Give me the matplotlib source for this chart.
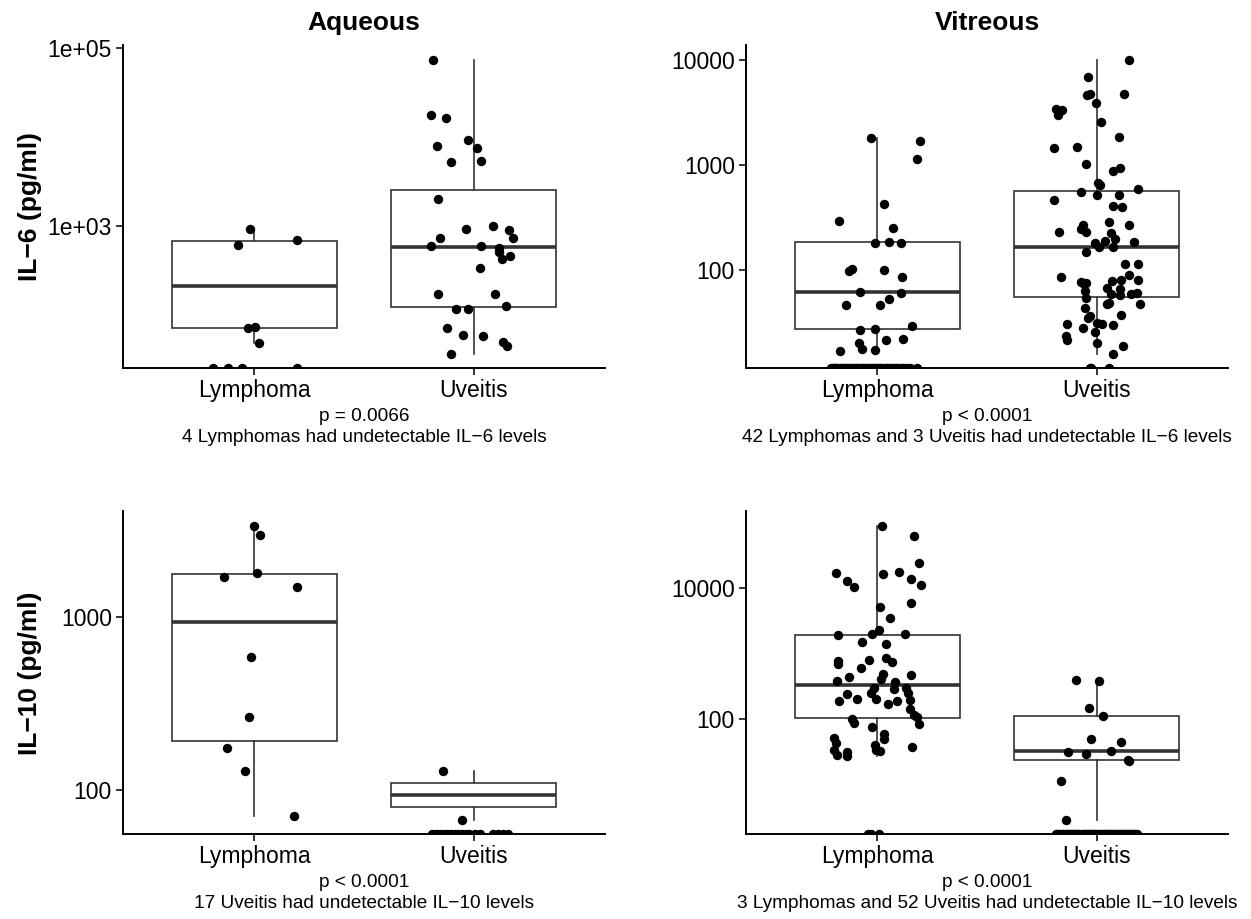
import numpy as np
import matplotlib
matplotlib.use('Agg')
import matplotlib.pyplot as plt
from matplotlib import cbook
from matplotlib.ticker import NullLocator

plt.rcParams['font.family'] = ['Liberation Sans', 'DejaVu Sans']

groups = ['Lymphoma', 'Uveitis']

# Aqueous, IL-6 (pg/ml) -- *_jit = horizontal jitter, *_nd = jitter of undetectable samples
aq_il6_lym = [925, 611, 708, 71, 74, 49]
aq_il6_lym_jit = [-0.02, -0.077, 0.194, -0.03, 0.004, 0.019]
aq_il6_lym_nd = [-0.19, -0.12, -0.059, 0.194]
aq_il6_uve = [73800, 17860, 16370, 7980, 9330, 7640, 5270, 5410, 2000, 933,
              1009, 910, 738, 733, 600, 605, 570, 514, 467, 425,
              336, 175, 175, 126, 117, 117, 71, 60, 59, 50,
              45, 37]
aq_il6_uve_jit = [-0.183, -0.192, -0.125, -0.165, -0.023, 0.014, -0.104, 0.033, -0.162, -0.035,
                  0.091, 0.163, -0.151, 0.181, -0.196, 0.033, 0.118, 0.115, 0.167, 0.129,
                  0.028, -0.16, 0.1, 0.147, -0.08, -0.024, -0.12, -0.048, 0.042, 0.136,
                  0.153, -0.102]
aq_il6_uve_nd = []

# Vitreous, IL-6
vit_il6_lym = [1816, 1690, 1130, 421, 292, 250, 180, 187, 181, 97,
               102, 101, 86.5, 61.7, 60, 46.3, 46.3, 52.5, 29.2, 27,
               27.6, 20.4, 21.5, 22.2, 17, 17.6, 17.3]
vit_il6_lym_jit = [-0.029, 0.194, 0.179, 0.03, -0.176, 0.073, -0.011, 0.052, 0.106, -0.132,
                   -0.115, 0.029, 0.111, -0.08, 0.109, -0.143, 0.011, 0.055, 0.159, -0.08,
                   -0.012, -0.083, 0.041, 0.115, -0.172, -0.071, -0.009]
vit_il6_lym_nd = [-0.212, -0.205, -0.196, -0.19, -0.183, -0.171, -0.165, -0.158, -0.147, -0.139,
                  -0.131, -0.122, -0.118, -0.104, -0.097, -0.089, -0.08, -0.071, -0.066, -0.055,
                  -0.047, -0.038, -0.031, -0.022, -0.013, -0.004, 0.006, 0.012, 0.021, 0.034,
                  0.041, 0.05, 0.058, 0.067, 0.079, 0.086, 0.095, 0.108, 0.117, 0.131,
                  0.149, 0.182]
vit_il6_uve = [10000, 6840, 4650, 4710, 4710, 3860, 3410, 3330, 2990, 2550,
               1845, 1450, 1480, 1026, 869, 927, 671, 647, 593, 551,
               524, 524, 462, 407, 396, 285, 269, 228, 244, 267,
               228, 225, 196, 189, 180, 164, 167, 187, 147, 115,
               115, 90.4, 85.7, 79.8, 79.8, 78, 76.9, 73.1, 74.6, 67.9,
               66.4, 63.1, 59.6, 57.4, 58.6, 60.8, 54.1, 48.9, 47.1, 47.8,
               43.2, 36.4, 34.6, 37, 30.8, 28, 31, 30.8, 29.9, 25.5,
               23.4, 21.8, 20.1, 19, 16]
vit_il6_uve_jit = [0.146, -0.041, -0.043, -0.029, 0.126, -0.002, -0.184, -0.156, -0.175, 0.02,
                   0.102, -0.194, -0.088, -0.049, 0.076, 0.109, 0.005, 0.017, 0.19, -0.07,
                   0.0, 0.102, -0.193, 0.074, 0.118, 0.059, 0.147, -0.173, -0.07, -0.062,
                   -0.046, 0.064, 0.084, 0.039, -0.005, 0.011, 0.073, 0.172, -0.047, 0.128,
                   0.191, 0.146, -0.162, 0.191, 0.112, 0.07, -0.07, -0.059, -0.05, 0.049,
                   0.105, -0.052, 0.064, 0.105, 0.158, 0.187, -0.05, 0.056, 0.049, 0.197,
                   -0.053, -0.029, -0.039, 0.112, -0.134, -0.062, 0.003, 0.024, 0.074, -0.006,
                   -0.138, -0.137, 0.0, 0.12, 0.073]
vit_il6_uve_nd = [-0.03, -0.024, 0.059]

# Aqueous, IL-10
aq_il10_lym = [3360, 2980, 1800, 1710, 1490, 587, 264, 175, 129, 71.6]
aq_il10_lym_jit = [0.0, 0.026, 0.014, -0.14, 0.194, -0.015, -0.024, -0.127, -0.042, 0.181]
aq_il10_lym_nd = []
aq_il10_uve = [130, 67.9]
aq_il10_uve_jit = [-0.138, -0.053]
aq_il10_uve_nd = [-0.188, -0.17, -0.151, -0.137, -0.12, -0.102, -0.086, -0.07, -0.051, -0.033,
                  -0.019, 0.005, 0.028, 0.09, 0.112, 0.134, 0.158]

# Vitreous, IL-10
vit_il10_lym = [87900, 61800, 24300, 16700, 16500, 17500, 13550, 12760, 10350, 11000,
                5830, 5080, 3530, 2320, 1920, 1970, 2020, 1490, 1390, 773,
                689, 800, 869, 757, 612, 447, 497, 479, 383, 375,
                406, 303, 255, 286, 303, 255, 240, 188, 202, 207,
                171, 190, 197, 146, 119, 110, 84, 102, 87, 75.5,
                60.5, 50.8, 52.6, 43.2, 34.9, 29.3, 31.8, 27.6, 40.2, 34.9,
                32.6, 38.4]
vit_il10_lym_jit = [0.021, 0.167, 0.19, -0.191, 0.027, 0.1, 0.153, -0.137, -0.109, 0.197,
                    0.153, 0.011, 0.058, 0.008, -0.182, -0.024, 0.128, -0.07, 0.039, -0.181,
                    -0.178, -0.038, 0.041, 0.068, -0.076, -0.129, 0.027, 0.152, -0.185, 0.08,
                    0.018, -0.015, -0.03, 0.076, 0.129, 0.138, -0.137, -0.175, -0.091, -0.008,
                    0.046, 0.088, 0.147, 0.15, 0.167, 0.182, 0.19, -0.114, -0.108, -0.023,
                    0.03, 0.032, -0.2, -0.19, -0.2, -0.185, -0.137, -0.141, -0.011, -0.005,
                    0.012, 0.159]
vit_il10_lym_nd = [-0.043, -0.03, 0.008]
vit_il10_uve = [398, 389, 149, 112, 50.8, 45.2, 33.7, 32.2, 30.3, 24.3, 23.4, 11.5, 3.0]
vit_il10_uve_jit = [-0.095, 0.01, -0.034, 0.03, -0.027, 0.11, 0.067, -0.131, -0.047, 0.143,
                    0.15, -0.163, -0.141]
vit_il10_uve_nd = [-0.186, -0.18, -0.17, -0.166, -0.155, -0.151, -0.14, -0.136, -0.127, -0.122,
                   -0.111, -0.107, -0.097, -0.093, -0.083, -0.078, -0.068, -0.064, -0.054, -0.049,
                   -0.04, -0.036, -0.025, -0.021, -0.011, -0.006, 0.004, 0.008, 0.018, 0.023,
                   0.033, 0.037, 0.047, 0.052, 0.062, 0.066, 0.076, 0.081, 0.09, 0.095,
                   0.105, 0.109, 0.119, 0.124, 0.133, 0.138, 0.148, 0.152, 0.162, 0.167,
                   0.176, 0.184]

il6_aq_ticks = [1e3, 1e5]
il6_aq_labels = ['1e+03', '1e+05']
il6_vit_ticks = [100, 1000, 10000]
il6_vit_labels = ['100', '1000', '10000']
il10_aq_ticks = [100, 1000]
il10_aq_labels = ['100', '1000']
il10_vit_ticks = [100, 10000]
il10_vit_labels = ['100', '10000']

box_col = '#333333'


def draw_panel(ax, lym, lym_jit, lym_nd, uve, uve_jit, uve_nd, ticks, labels, caption,
               title=None, ylabel=None):
    # y range like ggplot: finite values on log scale, 5% expansion
    logs = np.log10(np.concatenate([lym, uve]))
    lo, hi = logs.min(), logs.max()
    pad = 0.05 * (hi - lo)
    ax.set_yscale('log')
    ax.set_ylim(10 ** (lo - pad), 10 ** (hi + pad))
    ax.set_xlim(0.4, 2.6)

    # box stats computed on log10 values (scale_y_log10 behaviour)
    stats = []
    for vals in (lym, uve):
        s = cbook.boxplot_stats(np.log10(vals), whis=1.5)[0]
        for k in ('med', 'q1', 'q3', 'whislo', 'whishi', 'mean'):
            s[k] = 10 ** s[k]
        s['fliers'] = []
        stats.append(s)
    ax.bxp(stats, positions=[1, 2], widths=0.75, showfliers=False, showcaps=False,
           patch_artist=True,
           boxprops=dict(facecolor='white', edgecolor=box_col, linewidth=1.2),
           medianprops=dict(color=box_col, linewidth=2.6),
           whiskerprops=dict(color=box_col, linewidth=1.2))

    bottom = ax.get_ylim()[0]
    for pos, vals, jit, nd in ((1, lym, lym_jit, lym_nd), (2, uve, uve_jit, uve_nd)):
        ax.scatter(pos + np.array(jit), vals, s=46, color='black', linewidths=0, zorder=3)
        if nd:
            # undetectable samples sit on the lower edge of the panel
            ax.scatter(pos + np.array(nd), [bottom] * len(nd), s=46, color='black',
                       linewidths=0, zorder=3)

    ax.set_xticks([1, 2], groups)
    ax.set_yticks(ticks, labels)
    ax.yaxis.set_minor_locator(NullLocator())
    ax.tick_params(labelsize=16.5, length=5, width=1.1, color='black', labelcolor='black', pad=3)
    for side in ('top', 'right'):
        ax.spines[side].set_visible(False)
    for side in ('left', 'bottom'):
        ax.spines[side].set_linewidth(1.4)
        ax.spines[side].set_color('black')
    ax.set_xlabel(caption, fontsize=13.7, linespacing=1.3, labelpad=4)
    if title:
        ax.set_title(title, fontsize=19, fontweight='bold', pad=11)
    if ylabel:
        ax.set_ylabel(ylabel, fontsize=19, fontweight='bold')
        # both row labels share the same column, as in the original layout
        ax.yaxis.set_label_coords(-0.168, 0.5)


fig = plt.figure(figsize=(12.51, 9.19), dpi=100)
w, h = 0.3853, 0.3515
ax1 = fig.add_axes([0.0983, 0.5992, w, h])
ax2 = fig.add_axes([0.5963, 0.5992, w, h])
ax3 = fig.add_axes([0.0983, 0.0922, w, h])
ax4 = fig.add_axes([0.5963, 0.0922, w, h])

draw_panel(ax1, aq_il6_lym, aq_il6_lym_jit, aq_il6_lym_nd, aq_il6_uve, aq_il6_uve_jit, aq_il6_uve_nd,
           il6_aq_ticks, il6_aq_labels,
           'p = 0.0066\n4 Lymphomas had undetectable IL\u22126 levels',
           title='Aqueous', ylabel='IL\u22126 (pg/ml)')
draw_panel(ax2, vit_il6_lym, vit_il6_lym_jit, vit_il6_lym_nd, vit_il6_uve, vit_il6_uve_jit, vit_il6_uve_nd,
           il6_vit_ticks, il6_vit_labels,
           'p < 0.0001\n42 Lymphomas and 3 Uveitis had undetectable IL\u22126 levels',
           title='Vitreous')
draw_panel(ax3, aq_il10_lym, aq_il10_lym_jit, aq_il10_lym_nd, aq_il10_uve, aq_il10_uve_jit, aq_il10_uve_nd,
           il10_aq_ticks, il10_aq_labels,
           'p < 0.0001\n17 Uveitis had undetectable IL\u221210 levels',
           ylabel='IL\u221210 (pg/ml)')
draw_panel(ax4, vit_il10_lym, vit_il10_lym_jit, vit_il10_lym_nd, vit_il10_uve, vit_il10_uve_jit, vit_il10_uve_nd,
           il10_vit_ticks, il10_vit_labels,
           'p < 0.0001\n3 Lymphomas and 52 Uveitis had undetectable IL\u221210 levels')

fig.savefig('out.png', dpi=100, facecolor='white')
